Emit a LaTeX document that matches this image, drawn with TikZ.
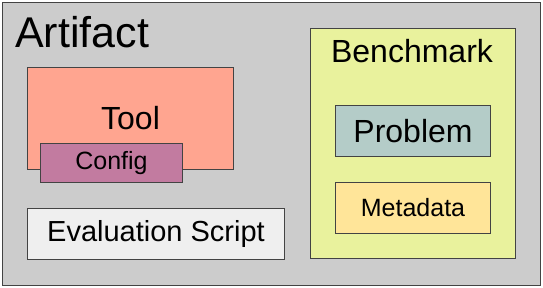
\documentclass[tikz,border=0pt]{standalone}
\usepackage{fontspec}
\setmainfont{Liberation Sans}

\definecolor{artifactgray}{HTML}{CCCCCC}
\definecolor{toolsalmon}{HTML}{FFA590}
\definecolor{configplum}{HTML}{C27BA0}
\definecolor{evalwhite}{HTML}{EFEFEF}
\definecolor{benchlime}{HTML}{E9F29D}
\definecolor{problemteal}{HTML}{B4CCC8}
\definecolor{metayellow}{HTML}{FFE599}
\definecolor{boxline}{HTML}{434343}

\begin{document}
\begin{tikzpicture}[
				x = 1pt, y = -1pt, % one unit per pixel, downwards
				box/.style = {draw = boxline, line width = 1pt, inner sep = 0pt, anchor = north west},
				]

				\useasboundingbox (0,0) rectangle (543,288);

				% outer artifact
				\node[box, fill=artifactgray, minimum width=538pt, minimum height=283pt] (artifact) at (2,2) {};
				\node[anchor=base west, inner sep=0pt, font=\fontsize{43}{43}\selectfont] (artifactlabel) at (15,48) {Artifact};

				% tool and its config
				\node[box, fill=toolsalmon, minimum width=206pt, minimum height=102pt, font=\fontsize{32}{32}\selectfont] (tool) at (27,67) {Tool};
				\node[box, fill=configplum, minimum width=142pt, minimum height=39pt, font=\fontsize{25}{25}\selectfont] (config) at (40,143) {Config};

				\node[box, fill=evalwhite, minimum width=257pt, minimum height=51pt, font=\fontsize{29}{29}\selectfont] (eval) at (27,208) {Evaluation Script};

				% benchmark
				\node[box, fill=benchlime, minimum width=205pt, minimum height=230pt] (benchmark) at (310,28) {};
				\node[anchor=base, inner sep=0pt, font=\fontsize{32}{32}\selectfont] (benchmarklabel) at (412,63) {Benchmark};
				\node[box, fill=problemteal, minimum width=155pt, minimum height=51pt, font=\fontsize{32}{32}\selectfont] (problem) at (335,105) {Problem};
				\node[box, fill=metayellow, minimum width=155pt, minimum height=51pt, font=\fontsize{25}{25}\selectfont] (metadata) at (335,182) {Metadata};
			\end{tikzpicture}
\end{document}
